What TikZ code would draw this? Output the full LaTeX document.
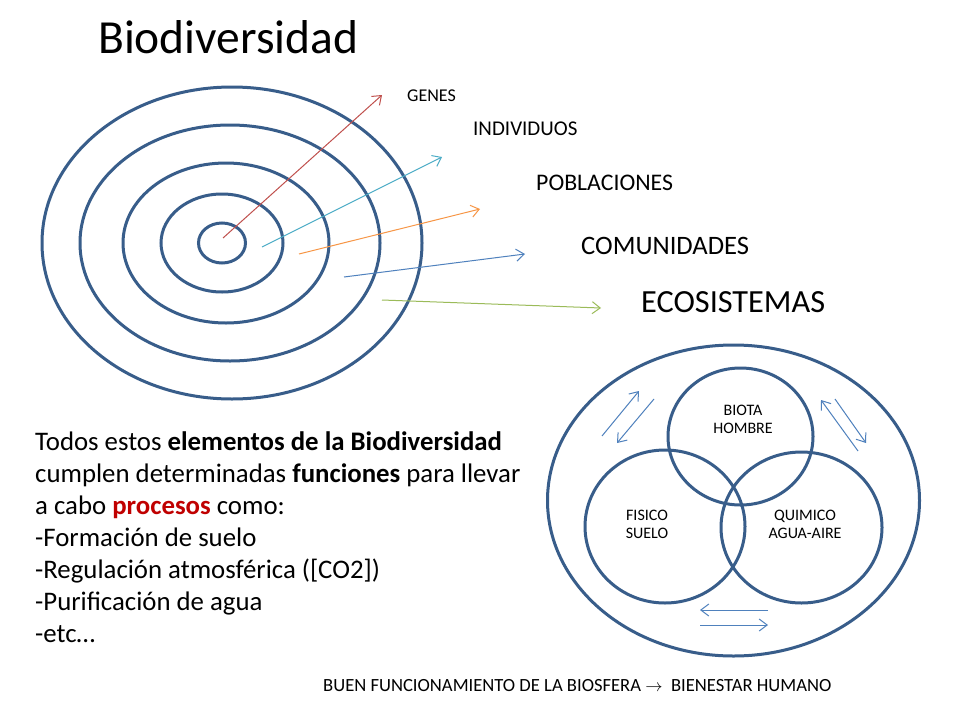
\documentclass[tikz,border=0pt]{standalone}
\usepackage{fontspec}
\setmainfont{Carlito}
\usetikzlibrary{arrows.meta}
\definecolor{ringblue}{HTML}{385D8A}
\definecolor{aRed}{HTML}{C0504D}
\definecolor{aCyan}{HTML}{4BACC6}
\definecolor{aOrange}{HTML}{F79646}
\definecolor{aBlue}{HTML}{4F81BD}
\definecolor{aGreen}{HTML}{9BBB59}
\definecolor{procred}{HTML}{C00000}
\tikzset{
  ring/.style={draw=ringblue, line width=3pt},
  thinarrow/.style={line width=1pt, -{Straight Barb[length=8pt,width=12pt]}},
  lbl/.style={inner sep=0pt, anchor=west},
  bodyline/.style={inner sep=0pt, anchor=base west, font=\fontsize{26.8}{32}\selectfont},
  venntext/.style={inner sep=0pt, align=center, font=\fontsize{16}{18}\selectfont},
}
\begin{document}
\begin{tikzpicture}[x=1pt,y=-1pt]
\useasboundingbox (0,0) rectangle (960,720);
\fill[white] (0,0) rectangle (960,720);

% title
\node[inner sep=0pt, anchor=base west, font=\fontsize{47.5}{56}\selectfont] (title) at (98,53) {Biodiversidad};

% concentric ellipses
\draw[ring] (232,243) ellipse [x radius=190, y radius=156];
\draw[ring] (230,243) ellipse [x radius=150, y radius=118];
\draw[ring] (226,243) ellipse [x radius=103, y radius=80];
\draw[ring] (222,243) ellipse [x radius=61, y radius=49];
\draw[ring] (222,243) ellipse [x radius=23.5, y radius=20];

% level labels
\node[lbl, font=\fontsize{18}{20}\selectfont] (genes) at (407,96) {GENES};
\node[lbl, font=\fontsize{21}{24}\selectfont] (indiv) at (473,129) {INDIVIDUOS};
\node[lbl, font=\fontsize{23.8}{26}\selectfont] (pobl) at (536,183) {POBLACIONES};
\node[lbl, font=\fontsize{26.6}{30}\selectfont] (comu) at (581,246) {COMUNIDADES};
\node[lbl, font=\fontsize{32.3}{36}\selectfont] (ecos) at (641,302) {ECOSISTEMAS};

% arrow end points
\coordinate (r1) at (223,238); \coordinate (r2) at (382,95);
\coordinate (c1) at (262,247); \coordinate (c2) at (442,157);
\coordinate (o1) at (299,254); \coordinate (o2) at (480,209);
\coordinate (b1) at (344,277); \coordinate (b2) at (525,254);
\coordinate (g1) at (382,300); \coordinate (g2) at (601,308);
\draw[thinarrow, aRed] (r1) -- (r2);
\draw[thinarrow, aCyan] (c1) -- (c2);
\draw[thinarrow, aOrange] (o1) -- (o2);
\draw[thinarrow, aBlue] (b1) -- (b2);
\draw[thinarrow, aGreen] (g1) -- (g2);

% body text
\node[bodyline] (t1) at (35,450) {Todos estos \textbf{elementos de la Biodiversidad}};
\node[bodyline] (t2) at (35,482) {cumplen determinadas \textbf{funciones} para llevar};
\node[bodyline] (t3) at (35,514) {a cabo \textbf{\color{procred}procesos} como:};
\node[bodyline] (t4) at (35,546) {-Formación de suelo};
\node[bodyline] (t5) at (35,578) {-Regulación atmosférica ([CO2])};
\node[bodyline] (t6) at (35,610) {-Purificación de agua};
\node[bodyline] (t7) at (35,642) {-etc…};

% venn diagram
\draw[ring] (733.5,500.5) ellipse [x radius=186, y radius=155.5];
\draw[ring] (740.5,436.5) ellipse [x radius=72.5, y radius=68.5];
\draw[ring] (665,526.5) ellipse [x radius=80, y radius=76.5];
\draw[ring] (801.5,527.5) ellipse [x radius=80.5, y radius=75.5];
\node[venntext] (biota) at (743,419) {BIOTA\\HOMBRE};
\node[venntext] (fisico) at (647,524) {FISICO\\SUELO};
\node[venntext] (quimico) at (805,524) {QUIMICO\\AGUA-AIRE};

% exchange arrows
\coordinate (la1) at (602,436); \coordinate (la2) at (639,391);
\coordinate (lb1) at (654,399); \coordinate (lb2) at (617,443);
\coordinate (ra1) at (858,451); \coordinate (ra2) at (821,400);
\coordinate (rb1) at (835,399); \coordinate (rb2) at (866,443);
\coordinate (ba1) at (768,610); \coordinate (ba2) at (700,610);
\coordinate (bb1) at (700,625); \coordinate (bb2) at (768,625);
\draw[thinarrow, aBlue] (la1) -- (la2);
\draw[thinarrow, aBlue] (lb1) -- (lb2);
\draw[thinarrow, aBlue] (ra1) -- (ra2);
\draw[thinarrow, aBlue] (rb1) -- (rb2);
\draw[thinarrow, aBlue] (ba1) -- (ba2);
\draw[thinarrow, aBlue] (bb1) -- (bb2);

% bottom statement
\node[lbl, font=\fontsize{18.6}{20}\selectfont] (bottom) at (323,686) {BUEN FUNCIONAMIENTO DE LA BIOSFERA $\rightarrow$\ \ BIENESTAR HUMANO};
\end{tikzpicture}
\end{document}
